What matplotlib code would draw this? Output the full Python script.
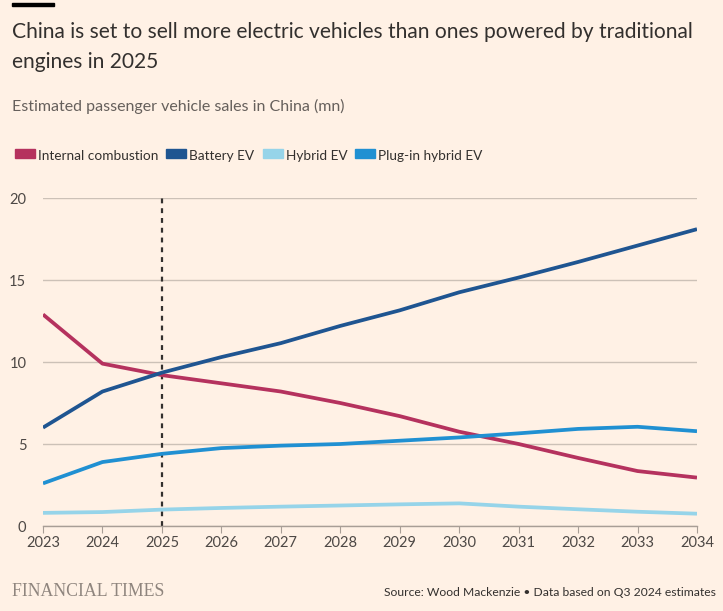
import matplotlib
matplotlib.use("Agg")
import matplotlib.pyplot as plt
from matplotlib.patches import Rectangle

# Data
years = [2023, 2024, 2025, 2026, 2027, 2028, 2029, 2030, 2031, 2032, 2033, 2034]
internal_combustion = [12.9, 9.9, 9.2, 8.7, 8.2, 7.5, 6.7, 5.75, 5.0, 4.15, 3.35, 2.95]
battery_ev = [6.0, 8.2, 9.35, 10.3, 11.15, 12.2, 13.15, 14.25, 15.15, 16.1, 17.1, 18.1]
hybrid_ev = [0.8, 0.85, 1.0, 1.1, 1.18, 1.25, 1.32, 1.38, 1.18, 1.02, 0.87, 0.75]
plugin_hybrid_ev = [2.6, 3.9, 4.4, 4.75, 4.9, 5.0, 5.2, 5.4, 5.65, 5.92, 6.05, 5.78]

series_names = ["Internal combustion", "Battery EV", "Hybrid EV", "Plug-in hybrid EV"]
series_values = [internal_combustion, battery_ev, hybrid_ev, plugin_hybrid_ev]
colors = ["#b5325e", "#1f5591", "#96d4e9", "#2090d2"]
y_ticks = [0, 5, 10, 15, 20]
marker_year = 2025

bg = "#fff1e5"
text_col = "#33302e"
sub_col = "#66605c"
grid_col = "#ccc1b7"

plt.rcParams['font.family'] = ['Lato', 'DejaVu Sans']

W, H = 723, 611
fig = plt.figure(figsize=(W / 100, H / 100), dpi=100, facecolor=bg)

# axes placed in pixel coords
left, right, top, bottom = 43, 697, 198, 526
ax = fig.add_axes([left / W, 1 - bottom / H, (right - left) / W, (bottom - top) / H])
ax.set_facecolor(bg)

for vals, c, name in zip(series_values, colors, series_names):
    ax.plot(years, vals, color=c, lw=2.7, label=name, solid_capstyle='butt', zorder=3)

ax.axvline(marker_year, color="#33302e", lw=1.6, ls=(0, (2.2, 2.2)), zorder=2)

ax.set_xlim(years[0], years[-1])
ax.set_ylim(0, 20)
ax.set_yticks(y_ticks)
ax.set_xticks(years)
ax.yaxis.grid(True, color=grid_col, lw=1)
ax.set_axisbelow(True)
for s in ["top", "right", "left"]:
    ax.spines[s].set_visible(False)
ax.spines["bottom"].set_color("#a89e96")
ax.spines["bottom"].set_linewidth(1)
ax.tick_params(axis='y', length=0, pad=12, labelsize=10.5, labelcolor="#4d4845")
ax.tick_params(axis='x', length=5, color="#a89e96", pad=2, labelsize=10.5, labelcolor="#4d4845")

# top bar
fig.add_artist(Rectangle((12 / W, 1 - 6 / H), 42 / W, 3 / H, color="#000000",
                         transform=fig.transFigure))

fig.text(12 / W, 1 - 38 / H,
         "China is set to sell more electric vehicles than ones powered by traditional",
         fontsize=15.1, color=text_col)
fig.text(12 / W, 1 - 68 / H, "engines in 2025", fontsize=15.1, color=text_col)
fig.text(12 / W, 1 - 111 / H, "Estimated passenger vehicle sales in China (mn)",
         fontsize=11.5, color=sub_col)

# legend
x0 = 15
r = fig.canvas.get_renderer()
for name, c in zip(series_names, colors):
    fig.add_artist(Rectangle((x0 / W, 1 - 158 / H), 20 / W, 9 / H, color=c,
                             transform=fig.transFigure))
    t = fig.text((x0 + 23) / W, 1 - 159.5 / H, name, fontsize=9.8, color=text_col)
    bb = t.get_window_extent(renderer=r)
    x0 = bb.x1 + 8

fig.text(12 / W, 1 - 596 / H, "FINANCIAL TIMES", fontsize=12.8, color="#8f857e",
         family=['Liberation Serif', 'DejaVu Serif'])
fig.text(716 / W, 1 - 596 / H, "Source: Wood Mackenzie \u2022 Data based on Q3 2024 estimates",
         fontsize=8.7, color=text_col, ha='right')

fig.savefig("out.png", dpi=100, facecolor=bg)
